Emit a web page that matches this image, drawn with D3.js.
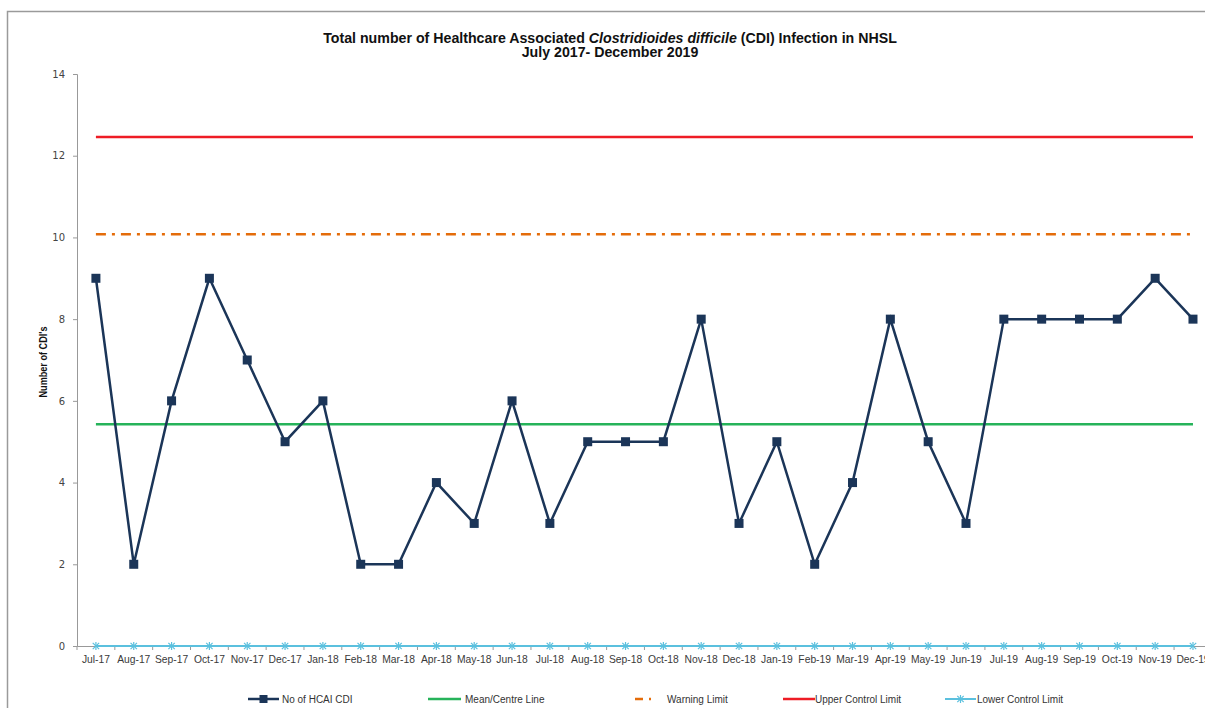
<!DOCTYPE html>
<html>
<head>
<meta charset="utf-8">
<script src="https://cdn.jsdelivr.net/npm/d3@7"></script>
<style>
  body { margin: 0; background: #fff; }
  svg { display: block; font-family: "Liberation Sans", Arial, sans-serif; }
</style>
</head>
<body>
<div id="chart"></div>
<script>
// monthly CDI counts, Jul-17 .. Dec-19
let months = ["Jul-17","Aug-17","Sep-17","Oct-17","Nov-17","Dec-17","Jan-18","Feb-18","Mar-18","Apr-18",
    "May-18","Jun-18","Jul-18","Aug-18","Sep-18","Oct-18","Nov-18","Dec-18","Jan-19","Feb-19",
    "Mar-19","Apr-19","May-19","Jun-19","Jul-19","Aug-19","Sep-19","Oct-19","Nov-19","Dec-19"];
let cdiCounts = [9,2,6,9,7,5,6,2,2,4,3,6,3,5,5,5,8,3,5,2,4,8,5,3,8,8,8,8,9,8];
let meanLine = 5.43;
let warningLimit = 10.08;
let upperLimit = 12.46;
let lowerLimit = 0;
let yTicks = [0,2,4,6,8,10,12,14];

let width = 1205, height = 708;
let plotLeft = 77, plotTop = 74, plotBottom = 646;
let band = 37.83;

let svg = d3.select("#chart").append("svg")
    .attr("width", width)
    .attr("height", height);

// outer frame (cut off on right / bottom)
svg.append("path")
    .attr("d", `M7.5,${height} V11.5 H${width}`)
    .attr("fill", "none")
    .attr("stroke", "#9a9a9a")
    .attr("stroke-width", 1.5);

let x = d3.scaleBand()
    .domain(months)
    .range([plotLeft, plotLeft + band * months.length]);

let y = d3.scaleLinear()
    .domain([0, 14])
    .range([plotBottom, plotTop]);

let cx = m => x(m) + x.bandwidth() / 2;

// title
let title = svg.append("text")
    .attr("text-anchor", "middle")
    .attr("font-weight", "bold")
    .attr("font-size", 14.2)
    .attr("fill", "#111");
title.append("tspan").attr("x", 610).attr("y", 43)
    .text("Total number of Healthcare Associated ");
title.append("tspan").attr("font-style", "italic").text("Clostridioides difficile");
title.append("tspan").text(" (CDI) Infection in NHSL");
svg.append("text")
    .attr("x", 610).attr("y", 57)
    .attr("text-anchor", "middle")
    .attr("font-weight", "bold")
    .attr("font-size", 14.2)
    .attr("fill", "#111")
    .text("July 2017- December 2019");

// y axis
let yAxis = svg.append("g")
    .attr("transform", `translate(${plotLeft},0)`)
    .call(d3.axisLeft(y).tickValues(yTicks).tickSize(4).tickPadding(8));
yAxis.select(".domain").attr("stroke", "#999");
yAxis.selectAll(".tick line").attr("stroke", "#999");
yAxis.selectAll(".tick text")
    .attr("font-size", 10)
    .attr("fill", "#444")
    .attr("font-family", "DejaVu Sans, sans-serif");

svg.append("text")
    .attr("transform", `translate(47,362) rotate(-90)`)
    .attr("text-anchor", "middle")
    .attr("font-weight", "bold")
    .attr("font-size", 10)
    .attr("font-family", "'Liberation Sans Narrow', 'Liberation Sans', sans-serif")
    .attr("fill", "#111")
    .attr("textLength", 71)
    .attr("lengthAdjust", "spacingAndGlyphs")
    .text("Number of CDI's");

// x axis
let xAxis = svg.append("g")
    .attr("transform", `translate(0,${plotBottom})`)
    .call(d3.axisBottom(x).tickSize(0).tickPadding(10));
xAxis.select(".domain").attr("stroke", "#999");
xAxis.selectAll(".tick text")
    .attr("font-size", 10.3)
    .attr("fill", "#3a3a3a")
    .attr("font-family", "'Liberation Sans', sans-serif");
svg.append("g").selectAll("line")
    .data(months)
    .join("line")
    .attr("x1", d => x(d)).attr("x2", d => x(d))
    .attr("y1", plotBottom).attr("y2", plotBottom + 4)
    .attr("stroke", "#999");

// limit lines
let flat = (v, color, dash, w) => svg.append("line")
    .attr("x1", cx(months[0])).attr("x2", cx(months[months.length - 1]))
    .attr("y1", y(v)).attr("y2", y(v))
    .attr("stroke", color)
    .attr("stroke-width", w)
    .attr("stroke-dasharray", dash);

flat(upperLimit, "#ee1c25", null, 2.5);
flat(warningLimit, "#e46c0a", "10,6,3,6", 2.5);
flat(meanLine, "#26b35a", null, 2.5);
flat(lowerLimit, "#5bc0de", null, 2);

// asterisk markers for lower control limit
let star = (g, size) => g.each(function () {
    let s = d3.select(this);
    s.append("line").attr("x1", 0).attr("x2", 0).attr("y1", -size).attr("y2", size);
    s.append("line").attr("x1", -size * 0.8).attr("x2", size * 0.8).attr("y1", -size * 0.8).attr("y2", size * 0.8);
    s.append("line").attr("x1", size * 0.8).attr("x2", -size * 0.8).attr("y1", -size * 0.8).attr("y2", size * 0.8);
});
svg.append("g").selectAll("g")
    .data(months)
    .join("g")
    .attr("transform", d => `translate(${cx(d)},${y(lowerLimit)})`)
    .attr("stroke", "#5bc0de")
    .attr("stroke-width", 1.2)
    .call(star, 4);

// main series
let line = d3.line()
    .x((d, i) => cx(months[i]))
    .y(d => y(d));
svg.append("path")
    .datum(cdiCounts)
    .attr("d", line)
    .attr("fill", "none")
    .attr("stroke", "#1b3558")
    .attr("stroke-width", 2.5);
svg.append("g").selectAll("rect")
    .data(cdiCounts)
    .join("rect")
    .attr("x", (d, i) => cx(months[i]) - 4.5)
    .attr("y", d => y(d) - 4.5)
    .attr("width", 9).attr("height", 9)
    .attr("fill", "#1b3558");

// legend
let ly = 699;
let legend = svg.append("g")
    .attr("font-size", 10)
    .attr("font-family", "'Liberation Sans Narrow', 'Liberation Sans', sans-serif")
    .attr("fill", "#333");
let items = [
    {name: "No of HCAI CDI", x: 248, len: 31, tx: 282, color: "#1b3558", w: 2.5, marker: "square"},
    {name: "Mean/Centre Line", x: 428, len: 33, tx: 465, color: "#26b35a", w: 2.5},
    {name: "Warning Limit", x: 635, len: 20, tx: 667, color: "#e46c0a", w: 2.5, dash: "8,6,2,6"},
    {name: "Upper Control Limit", x: 783, len: 32, tx: 815, color: "#ee1c25", w: 2.5},
    {name: "Lower Control Limit", x: 945, len: 31, tx: 977, color: "#5bc0de", w: 2, marker: "star"}
];
items.forEach(it => {
    legend.append("line")
        .attr("x1", it.x).attr("x2", it.x + it.len)
        .attr("y1", ly).attr("y2", ly)
        .attr("stroke", it.color)
        .attr("stroke-width", it.w)
        .attr("stroke-dasharray", it.dash || null);
    if (it.marker == "square") {
        legend.append("rect")
            .attr("x", it.x + 11.5).attr("y", ly - 4)
            .attr("width", 8).attr("height", 8)
            .attr("fill", it.color);
    } else if (it.marker == "star") {
        legend.append("g")
            .attr("transform", `translate(${it.x + 15.5},${ly})`)
            .attr("stroke", it.color)
            .attr("stroke-width", 1.2)
            .call(star, 4);
    }
    legend.append("text")
        .attr("x", it.tx)
        .attr("y", ly + 3.5)
        .text(it.name);
});
</script>
</body>
</html>
